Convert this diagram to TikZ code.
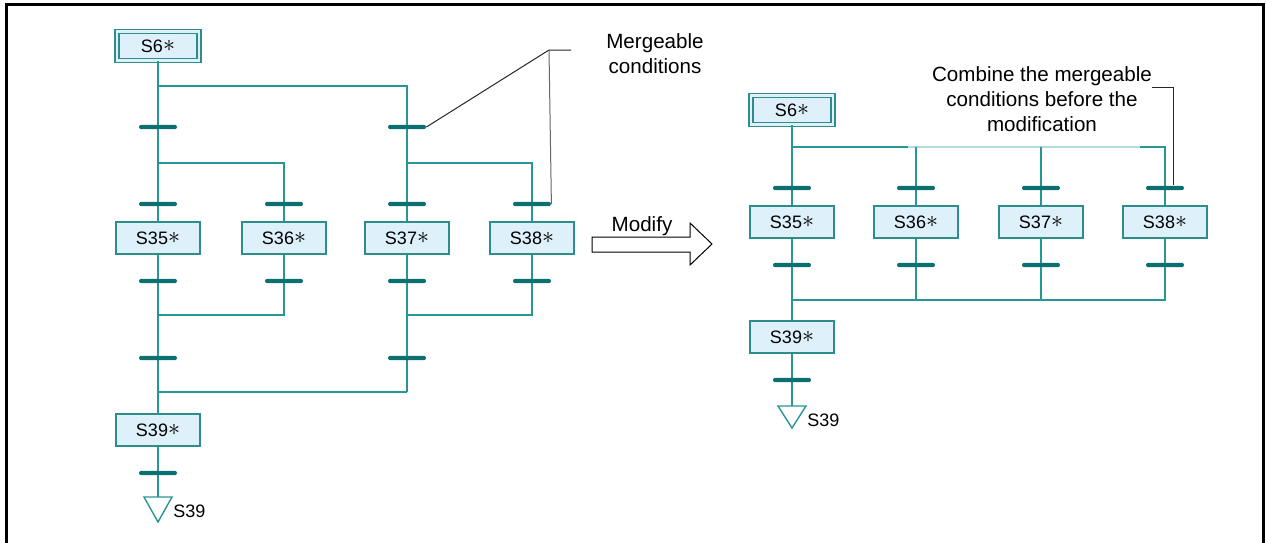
\documentclass[tikz,border=0pt]{standalone}
\usepackage{fontspec}
\setmainfont{Liberation Sans}
\usepackage{tikz}
\usepackage{xcolor}
\definecolor{sfcline}{RGB}{40,150,150}
\definecolor{sfcbar}{RGB}{12,112,112}
\definecolor{sfcedge}{RGB}{45,140,140}
\definecolor{sfcfill}{RGB}{222,240,250}
\newcommand{\stepast}{\raisebox{0.3pt}{\fontsize{12}{12}\selectfont$\ast$}}

\begin{document}
\begin{tikzpicture}[x=0.5pt,y=-0.5pt,
  flow/.style={draw=sfcline,line width=1pt},
  stepbox/.style={draw=sfcedge,fill=sfcfill,line width=1pt,minimum width=42pt,minimum height=16pt,inner sep=0pt,font=\fontsize{9}{10}\selectfont},
  initbox/.style={stepbox,double=sfcfill,double distance=1.2pt,line width=0.8pt,minimum width=41pt,minimum height=14.5pt},
  tbar/.style={fill=sfcbar,minimum width=19pt,minimum height=2.2pt,inner sep=0pt,rounded corners=1.1pt},
  jumplabel/.style={font=\fontsize{9}{10}\selectfont,anchor=west,inner sep=0pt},
  note/.style={font=\fontsize{10.3}{12.5}\selectfont,align=center},
  leader/.style={draw=black!85,line width=0.5pt}]
\useasboundingbox (0,0) rectangle (1266,542);
\draw[line width=1.5pt] (6,560) -- (6,4) -- (1263,4) -- (1263,560);

\node[initbox] (s6) at (158,46) {S6\stepast};
\coordinate (j1) at (407,86);
\coordinate (j2) at (284,163);
\coordinate (j3) at (532,163);
\coordinate (j4) at (284,315);
\coordinate (j5) at (532,315);
\coordinate (j6) at (407,392);
\node[stepbox] (s35) at (158,238) {S35\stepast};
\node[stepbox] (s36) at (284,238) {S36\stepast};
\node[stepbox] (s37) at (407,238) {S37\stepast};
\node[stepbox] (s38) at (532,238) {S38\stepast};
\node[stepbox] (s39) at (158,430) {S39\stepast};
\coordinate (e1) at (158,497);

\draw[flow] (s6) -- (158,127);
\draw[flow] (s6) |- (j1) -- (407,127);
\draw[flow] (158,127) -- (158,204);
\draw[flow] (158,127) |- (j2) -- (284,204);
\draw[flow] (407,127) -- (407,204);
\draw[flow] (407,127) |- (j3) -- (532,204);
\draw[flow] (158,204) -- (s35);
\draw[flow] (284,204) -- (s36);
\draw[flow] (407,204) -- (s37);
\draw[flow] (532,204) -- (s38);
\draw[flow] (s35) -- (s39);
\draw[flow] (s36) -- (j4) -| (158,281);
\draw[flow] (s37) -- (j6);
\draw[flow] (s38) -- (j5) -| (407,281);
\draw[flow] (j6) -| (158,392);
\draw[flow] (s39) -- (e1);
\draw[flow,line width=0.7pt] (144,497) -- (172,497) -- (158,522) -- cycle;
\node[jumplabel] (g1) at (173,511) {S39};

\node[tbar] (b1) at (158,127) {};
\node[tbar] (b2) at (407,127) {};
\node[tbar] (b3) at (158,204) {};
\node[tbar] (b4) at (284,204) {};
\node[tbar] (b5) at (407,204) {};
\node[tbar] (b6) at (532,204) {};
\node[tbar] (b7) at (158,281) {};
\node[tbar] (b8) at (284,281) {};
\node[tbar] (b9) at (407,281) {};
\node[tbar] (b10) at (532,281) {};
\node[tbar] (b11) at (158,358) {};
\node[tbar] (b12) at (407,358) {};
\node[tbar] (b13) at (158,473) {};

\node[note] (n1) at (655,54) {Mergeable\\conditions};
\coordinate (l1) at (571,50);
\coordinate (l2) at (549,50);
\draw[leader] (l1) -- (l2) -- (b2.east);
\draw[leader,draw=black!60] (l2) -- (b6.east);

\draw[line width=0.5pt] (592,237) -- (690,237) -- (690,223) -- (712,244) -- (690,265) -- (690,252) -- (592,252) -- cycle;
\node[font=\fontsize{10.3}{12.5}\selectfont] (mod) at (642,226) {Modify};

\node[initbox] (r6) at (792,110) {S6\stepast};
\coordinate (k1) at (908,147);
\coordinate (k2) at (1140,147);
\coordinate (k3) at (1165,300);
\node[stepbox] (r35) at (792,222) {S35\stepast};
\node[stepbox] (r36) at (916,222) {S36\stepast};
\node[stepbox] (r37) at (1041,222) {S37\stepast};
\node[stepbox] (r38) at (1165,222) {S38\stepast};
\node[stepbox] (r39) at (792,337) {S39\stepast};
\coordinate (e2) at (792,406);

\draw[flow] (r6) -- (r35);
\draw[flow] (r6) |- (k1);
\draw[flow,draw=sfcline!35] (k1) -- (k2);
\draw[flow] (k2) -| (r38);
\draw[flow] (916,147) -- (r36);
\draw[flow] (1041,147) -- (r37);
\draw[flow] (r38) -- (k3) -| (r35);
\draw[flow] (r36) -- (916,300);
\draw[flow] (r37) -- (1041,300);
\draw[flow] (792,300) -- (r39);
\draw[flow] (r39) -- (e2);
\draw[flow,line width=0.7pt] (778,406) -- (806,406) -- (792,428) -- cycle;
\node[jumplabel] (g2) at (807,420) {S39};

\node[tbar] (c1) at (792,188) {};
\node[tbar] (c2) at (916,188) {};
\node[tbar] (c3) at (1041,188) {};
\node[tbar] (c4) at (1165,188) {};
\node[tbar] (c5) at (792,265) {};
\node[tbar] (c6) at (916,265) {};
\node[tbar] (c7) at (1041,265) {};
\node[tbar] (c8) at (1165,265) {};
\node[tbar] (c9) at (792,380) {};

\node[note] (n2) at (1042,99) {Combine the mergeable\\conditions before the\\modification};
\coordinate (l3) at (1152,87);
\coordinate (l4) at (1173,87);
\draw[leader] (l3) -- (l4) -- (l4 |- c4.north);
\end{tikzpicture}
\end{document}
